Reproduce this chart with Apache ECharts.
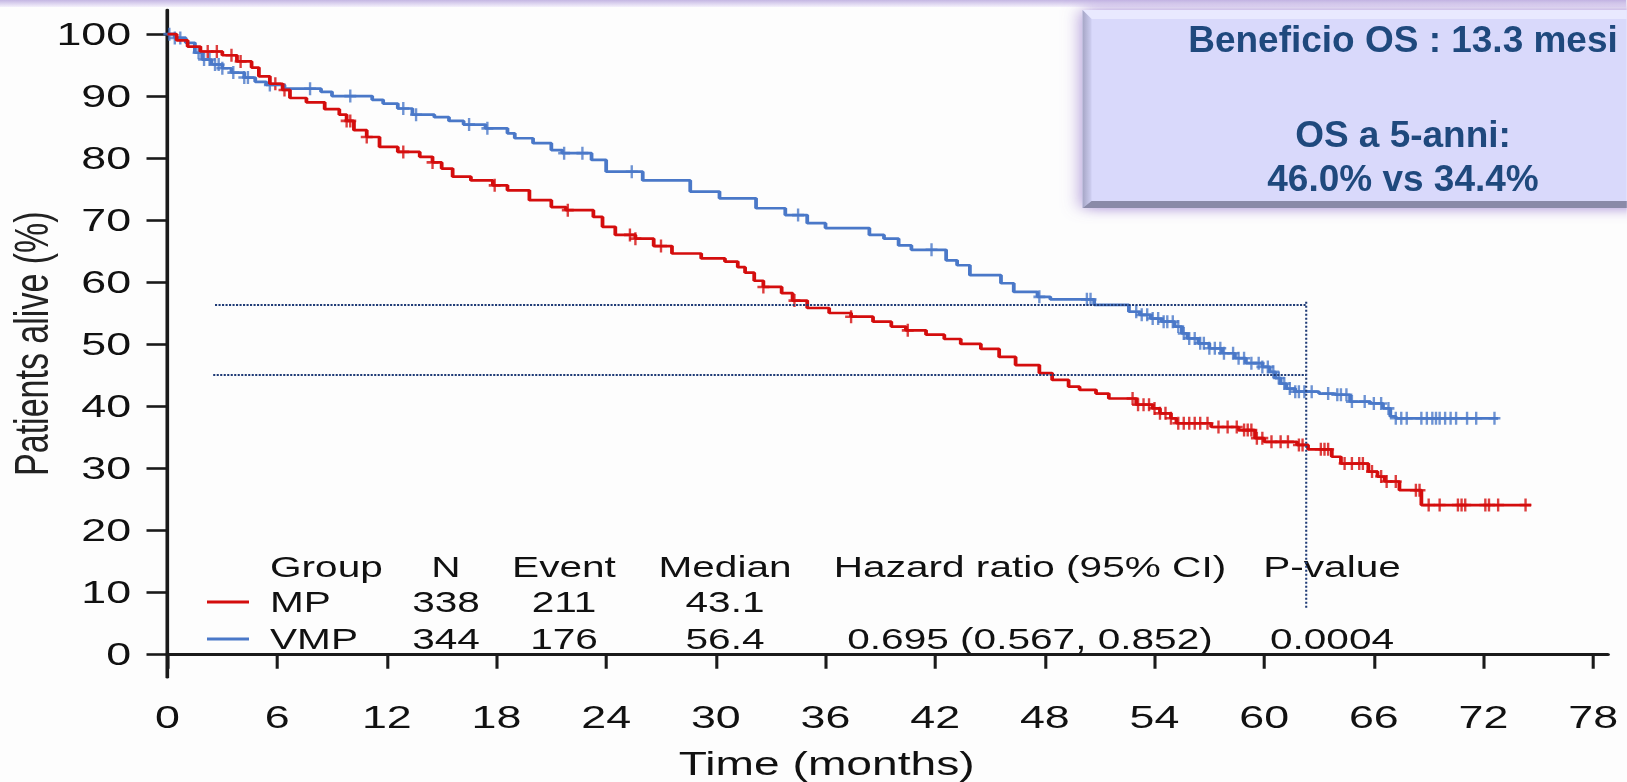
<!DOCTYPE html>
<html lang="it">
<head>
    <meta charset="UTF-8">
    <title>OS MP vs VMP</title>
    <script src="https://cdn.jsdelivr.net/npm/echarts@6/dist/echarts.min.js"></script>
    <style>
        html, body { margin: 0; padding: 0; background: #fdfdfd; overflow: hidden; }
        /* the original figure is stretched sideways, so the chart is drawn narrow and widened */
        #chart {
            width: 1162.14px;
            height: 782px;
            transform: scaleX(1.4);
            transform-origin: 0 0;
        }
    </style>
</head>
<body>
    <div id="chart"></div>
    <script>
        var S = 1.4;            // horizontal stretch of the figure
        var FONT = 'Liberation Sans, Arial, Helvetica, sans-serif';

        var xTicks = [0, 6, 12, 18, 24, 30, 36, 42, 48, 54, 60, 66, 72, 78];
        var yTicks = [0, 10, 20, 30, 40, 50, 60, 70, 80, 90, 100];

        // MP arm (red), Kaplan-Meier steps
        var mpTime = [0, 0.5, 1.1, 1.8, 3.0, 3.8, 4.6, 5.0, 5.6, 6.3, 6.7, 7.6, 8.6, 9.4, 9.8, 10.2, 10.9, 11.6, 12.6, 13.8,
            14.5, 15.0, 15.6, 16.6, 17.8, 18.6, 19.8, 21.0, 21.8, 23.3, 23.8, 24.5, 25.6, 26.6, 27.6, 29.2, 30.5, 31.2, 31.6, 32.1,
            32.6, 33.6, 34.2, 35.0, 36.2, 37.4, 38.6, 39.6, 40.4, 41.5, 42.5, 43.4, 44.5, 45.5, 46.4, 47.7, 48.4, 49.3, 49.9, 50.8,
            51.5, 53.0, 53.9, 54.3, 54.9, 55.2, 57.1, 58.6, 59.5, 60.0, 61.8, 62.4, 63.7, 64.2, 65.7, 66.2, 66.6, 67.4, 68.6, 74.6];
        var mpSurv = [100, 99.0, 98.0, 97.2, 96.6, 95.6, 94.6, 93.2, 92.0, 91.0, 89.7, 89.0, 87.9, 87.0, 86.0, 84.5, 83.4, 81.8, 81.0, 80.2,
            79.3, 78.3, 77.0, 76.4, 75.6, 74.8, 73.2, 72.1, 71.6, 70.5, 68.9, 67.6, 67.0, 65.8, 64.6, 63.8, 63.3, 62.4, 61.5, 60.2,
            59.2, 58.2, 57.0, 55.8, 55.0, 54.4, 53.6, 52.8, 52.2, 51.5, 50.8, 50.0, 49.2, 47.9, 46.6, 45.3, 44.2, 43.1, 42.6, 42.0,
            41.2, 40.2, 39.6, 38.8, 38.0, 37.2, 36.6, 36.1, 34.8, 34.2, 33.7, 33.0, 31.8, 30.7, 29.4, 28.6, 27.8, 26.4, 24.0, 24.0];
        var mpCensor = [2.2, 2.7, 3.5, 4.0, 5.9, 6.4, 9.8, 10.0, 10.9, 12.9, 14.5, 17.9, 21.9, 25.3, 25.6, 27.0, 32.6, 34.3, 37.4, 40.5,
            52.8, 53.1, 53.4, 53.7, 54.0, 54.3, 54.6, 54.9, 55.3, 55.6, 55.9, 56.2, 56.5, 56.9, 57.5, 58.0, 58.5, 58.9, 59.1, 59.3,
            59.6, 59.9, 60.4, 60.9, 61.3, 61.9, 62.1, 63.1, 63.3, 63.5, 64.4, 64.8, 65.2, 65.4, 65.9, 66.4, 66.7, 67.2, 68.3, 68.5,
            69.0, 69.6, 70.6, 70.8, 71.0, 72.1, 72.3, 72.8, 74.3];

        // VMP arm (blue)
        var vmpTime = [0, 0.4, 1.0, 1.5, 1.9, 2.4, 3.0, 3.5, 4.2, 4.8, 5.4, 6.4, 8.4, 9.0, 11.2, 11.8, 12.6, 13.4, 14.6, 15.4,
            16.2, 17.4, 18.6, 19.0, 20.0, 21.0, 21.6, 23.2, 24.0, 26.0, 28.6, 30.2, 32.2, 33.8, 35.0, 36.0, 38.4, 39.2, 40.0, 40.7,
            42.6, 43.2, 43.9, 45.6, 46.3, 47.6, 48.3, 50.7, 52.6, 53.2, 53.8, 54.4, 55.1, 55.5, 55.8, 56.4, 57.0, 57.7, 58.4, 59.0,
            59.9, 60.3, 60.6, 60.9, 61.2, 61.7, 63.0, 63.9, 64.7, 65.8, 66.5, 66.9, 67.2, 72.8];
        var vmpSurv = [100, 99.4, 98.6, 97.0, 95.9, 95.1, 94.5, 93.8, 93.0, 92.3, 91.8, 91.2, 90.7, 90.0, 89.4, 88.8, 88.0, 87.0, 86.6, 86.0,
            85.4, 84.8, 84.0, 83.2, 82.4, 81.3, 80.8, 79.7, 77.8, 76.4, 74.6, 73.5, 71.9, 70.8, 69.5, 68.7, 67.6, 67.0, 65.9, 65.2,
            63.5, 62.7, 61.1, 59.8, 58.4, 57.6, 57.2, 56.3, 55.2, 54.7, 54.1, 53.6, 52.8, 51.7, 50.9, 50.1, 49.3, 48.5, 47.7, 46.9,
            46.3, 45.5, 44.5, 43.6, 42.8, 42.3, 42.0, 41.8, 40.7, 40.4, 39.6, 38.3, 38.0, 38.0];
        var vmpCensor = [0.1, 0.4, 0.7, 1.7, 2.0, 2.3, 2.6, 2.8, 3.0, 3.6, 4.2, 4.4, 5.6, 7.8, 10.0, 12.9, 13.6, 16.5, 17.5, 21.7,
            22.7, 25.4, 34.5, 41.8, 47.7, 50.3, 50.5, 53.0, 53.3, 53.6, 53.9, 54.2, 54.5, 54.7, 55.0, 55.3, 55.6, 55.9, 56.2, 56.5,
            56.7, 57.0, 57.3, 57.6, 57.8, 58.3, 58.6, 58.9, 59.3, 59.7, 59.9, 60.2, 60.5, 60.8, 61.1, 61.4, 61.7, 61.9, 62.2, 62.6,
            63.5, 64.0, 64.2, 64.5, 64.8, 65.5, 66.0, 66.4, 66.8, 67.2, 67.5, 67.8, 68.6, 68.9, 69.2, 69.4, 69.6, 69.9, 70.2, 70.5,
            71.1, 71.6, 72.6];

        // dotted guide lines (median / 5-year marks)
        var guideUpper = [[2.6, 56.3], [62.3, 56.3]];
        var guideLower = [[2.5, 45.0], [62.3, 45.0]];
        var guideVert = [[62.3, 56.8], [62.3, 7.4]];

        var tableHeader = ['Group', 'N', 'Event', 'Median', 'Hazard ratio (95% CI)', 'P-value'];
        var mpRow = ['MP', '338', '211', '43.1', '', ''];
        var vmpRow = ['VMP', '344', '176', '56.4', '0.695 (0.567, 0.852)', '0.0004'];

        var boxLines = ['Beneficio OS : 13.3 mesi', '', 'OS a 5-anni:', '46.0% vs 34.4%'];

        var RED = '#d40d0d';
        var BLUE = '#4a78c8';

        function zip(a, b) {
            var out = [];
            for (var i = 0; i < a.length; i++) out.push([a[i], b[i]]);
            return out;
        }
        // censor mark sits on the curve at that time
        function survAt(times, surv, t) {
            var v = surv[0];
            for (var i = 0; i < times.length; i++) {
                if (times[i] <= t) v = surv[i];
            }
            return v;
        }
        function marks(times, surv, cens) {
            return cens.map(function (t) { return [t, survAt(times, surv, t)]; });
        }

        var plus = 'path://M4,0h2v4h4v2h-4v4h-2v-4h-4v-2h4z';

        // table, positions in full-size pixels, divided by S for the stretched frame
        var colX = [270, 446, 564, 725, 1030, 1332];
        var rowY = [567, 602, 639];
        var tableEls = [];
        [tableHeader, mpRow, vmpRow].forEach(function (row, r) {
            row.forEach(function (txt, c) {
                if (!txt) return;
                tableEls.push({
                    type: 'text',
                    x: colX[c] / S,
                    y: rowY[r],
                    style: {
                        text: txt,
                        fontSize: 29,
                        fontFamily: FONT,
                        fill: '#111',
                        align: c === 0 ? 'left' : 'center',
                        verticalAlign: 'middle'
                    }
                });
            });
        });
        tableEls.push({ type: 'line', shape: { x1: 207 / S, y1: rowY[1], x2: 249 / S, y2: rowY[1] }, style: { stroke: RED, lineWidth: 3 } });
        tableEls.push({ type: 'line', shape: { x1: 207 / S, y1: rowY[2], x2: 249 / S, y2: rowY[2] }, style: { stroke: BLUE, lineWidth: 3 } });

        // slide overlay box (not stretched -> counter scale)
        var boxEls = [
            {
                type: 'rect',
                shape: { x: 0, y: 0, width: 1627, height: 7 },
                style: { fill: new echarts.graphic.LinearGradient(0, 0, 0, 1, [{ offset: 0, color: '#c4b6e3' }, { offset: 1, color: '#f4f1fb' }]) }
            },
            {
                type: 'rect',
                shape: { x: 1083, y: 10, width: 600, height: 198 },
                style: { fill: '#d9d9fb', shadowBlur: 14, shadowColor: 'rgba(150,120,205,0.9)' }
            },
            {
                type: 'polygon',
                shape: { points: [[1083, 10], [1700, 10], [1700, 19], [1092, 19]] },
                style: { fill: '#e9e9ff' }
            },
            {
                type: 'polygon',
                shape: { points: [[1083, 10], [1092, 19], [1092, 201], [1083, 208]] },
                style: { fill: new echarts.graphic.LinearGradient(0, 0, 1, 0, [{ offset: 0, color: '#a6a6c6' }, { offset: 1, color: '#cfcff2' }]) }
            },
            {
                type: 'polygon',
                shape: { points: [[1083, 208], [1092, 201], [1700, 201], [1700, 208]] },
                style: { fill: '#8a8aa8' }
            }
        ];
        var lineY = [39, 88, 134, 178];
        boxLines.forEach(function (t, i) {
            if (!t) return;
            boxEls.push({
                type: 'text',
                x: 1403,
                y: lineY[i],
                style: {
                    text: t,
                    fontSize: 37,
                    fontWeight: 'bold',
                    fontFamily: FONT,
                    fill: '#1f497d',
                    align: 'center',
                    verticalAlign: 'middle'
                }
            });
        });

        var chart = echarts.init(document.getElementById('chart'), null, { renderer: 'svg' });

        var option = {
            animation: false,
            backgroundColor: '#fdfdfd',
            grid: {
                left: 167.5 / S,
                right: (1627 - 1608) / S,
                top: 10,
                bottom: 104.7,
                containLabel: false,
                outerBoundsMode: 'none'
            },
            xAxis: {
                type: 'value',
                min: 0,
                max: 78.8,
                interval: 6,
                name: 'Time (months)',
                nameLocation: 'middle',
                nameGap: 70,
                nameMoveOverlap: false,
                // title sits a little left of the axis centre in the original
                nameTextStyle: { fontSize: 33, fontFamily: FONT, color: '#111', padding: [0, 87, 0, 0] },
                axisLine: { show: true, lineStyle: { color: '#1a1a1a', width: 3 } },
                axisTick: { show: true, length: 15, customValues: xTicks, lineStyle: { color: '#1a1a1a', width: 2.2 } },
                axisLabel: { customValues: xTicks, margin: 24, fontSize: 32, fontFamily: FONT, color: '#111' },
                splitLine: { show: false }
            },
            yAxis: {
                type: 'value',
                min: -3.8,
                max: 103.9,
                name: 'Patients alive (%)',
                nameLocation: 'middle',
                nameRotate: 90,
                nameGap: 80,
                nameMoveOverlap: false,
                nameTextStyle: { fontSize: 34, fontFamily: FONT, color: '#222' },
                axisLine: { show: true, lineStyle: { color: '#1a1a1a', width: 2.6 } },
                axisTick: { show: true, length: 15, customValues: yTicks, lineStyle: { color: '#1a1a1a', width: 2.6 } },
                axisLabel: { customValues: yTicks, margin: 26, fontSize: 32, fontFamily: FONT, color: '#111' },
                splitLine: { show: false }
            },
            series: [
                {
                    name: 'VMP', type: 'line', step: 'end', showSymbol: false,
                    data: zip(vmpTime, vmpSurv),
                    lineStyle: { color: BLUE, width: 2.7 }
                },
                {
                    name: 'MP', type: 'line', step: 'end', showSymbol: false,
                    data: zip(mpTime, mpSurv),
                    lineStyle: { color: RED, width: 2.7 }
                },
                {
                    type: 'scatter', symbol: plus, symbolSize: [8.5, 13],
                    data: marks(vmpTime, vmpSurv, vmpCensor),
                    itemStyle: { color: BLUE }
                },
                {
                    type: 'scatter', symbol: plus, symbolSize: [8.5, 13],
                    data: marks(mpTime, mpSurv, mpCensor),
                    itemStyle: { color: RED }
                },
                {
                    type: 'line', showSymbol: false, data: guideUpper,
                    lineStyle: { color: '#1f3b76', width: 2, type: [1.5, 1] }
                },
                {
                    type: 'line', showSymbol: false, data: guideLower,
                    lineStyle: { color: '#1f3b76', width: 2, type: [1.5, 1] }
                },
                {
                    type: 'line', showSymbol: false, data: guideVert,
                    lineStyle: { color: '#1f3b76', width: 1.5, type: [2, 2] }
                }
            ],
            graphic: [
                { type: 'group', z: 50, children: tableEls },
                { type: 'group', z: 100, x: 0, y: 0, scaleX: 1 / S, children: boxEls }
            ]
        };

        chart.setOption(option);
    </script>
</body>
</html>
